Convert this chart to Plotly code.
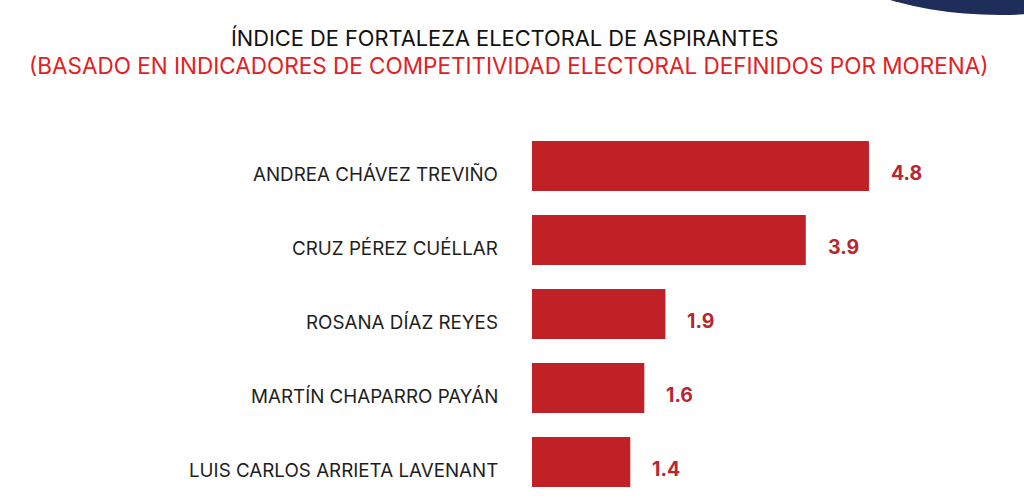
import plotly.graph_objects as go

names = ["ANDREA CHÁVEZ TREVIÑO", "CRUZ PÉREZ CUÉLLAR", "ROSANA DÍAZ REYES",
         "MARTÍN CHAPARRO PAYÁN", "LUIS CARLOS ARRIETA LAVENANT"]
values = [4.8, 3.9, 1.9, 1.6, 1.4]
title = "ÍNDICE DE FORTALEZA ELECTORAL DE ASPIRANTES"
subtitle = "(BASADO EN INDICADORES DE COMPETITIVIDAD ELECTORAL DEFINIDOS POR MORENA)"

BAR = "#c02126"
VAL = "#b8262f"

# plot area geometry (pixels)
L, T, W, H = 532, 129, 1024, 499
PW, PH = W - L, H - T


def px(x):
    return (x - L) / PW


def py(y):
    return (H - y) / PH


fig = go.Figure()
fig.add_trace(go.Bar(
    x=values, y=names, orientation="h",
    marker=dict(color=BAR, line=dict(width=0)),
    width=0.675, hoverinfo="skip",
))

for n, v in zip(names, values):
    fig.add_annotation(x=v, y=n, text=f"<b>{v:.1f}</b>", showarrow=False,
                       xanchor="left", yanchor="middle", xshift=20, yshift=-7,
                       font=dict(family="Inter", size=19.5, color=VAL))
    fig.add_annotation(x=0, y=n, text=n, showarrow=False,
                       xanchor="right", yanchor="middle", xshift=-32, yshift=-8,
                       font=dict(family="Inter", size=18.8, color="#1e1e1e"))

fig.add_annotation(x=px(505), y=py(38.5), xref="paper", yref="paper",
                   text=title, showarrow=False, xanchor="center", yanchor="middle",
                   font=dict(family="Inter", size=21.8, color="#111111"))
fig.add_annotation(x=px(508.5), y=py(65.5), xref="paper", yref="paper",
                   text=subtitle, showarrow=False, xanchor="center", yanchor="middle",
                   font=dict(family="Inter", size=22.5, color="#e3201f"))

fig.add_shape(type="circle", xref="paper", yref="paper",
              x0=px(817), x1=px(1183), y0=py(-135), y1=py(15),
              fillcolor="#1f2d5a", line=dict(width=0), layer="above")

fig.update_layout(
    width=W, height=H,
    margin=dict(l=L, r=0, t=T, b=0),
    paper_bgcolor="white", plot_bgcolor="white",
    showlegend=False,
    xaxis=dict(range=[0, PW / 70.2], visible=False, fixedrange=True),
    yaxis=dict(autorange="reversed", showgrid=False, zeroline=False, showline=False,
               ticks="", showticklabels=False),
)
fig.write_html("out.html")
